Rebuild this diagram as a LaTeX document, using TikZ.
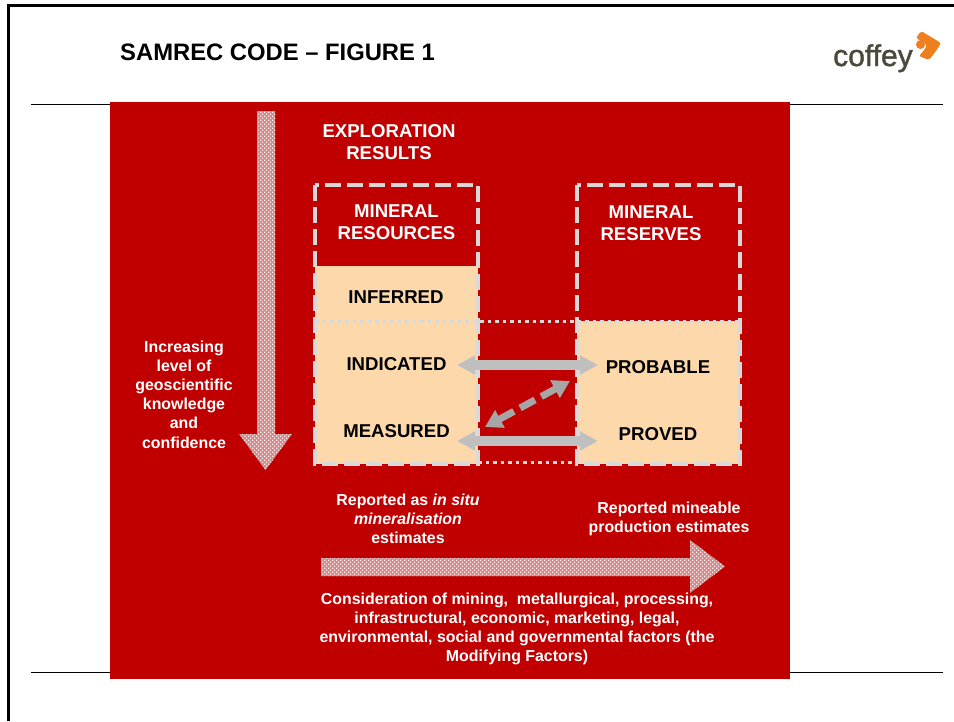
\documentclass[tikz,border=0pt]{standalone}
\usepackage{fontspec}
\setmainfont{Liberation Sans}
\newfontfamily\logofont[FakeBold=1.4]{Liberation Sans}
\usetikzlibrary{arrows.meta,patterns}
\definecolor{redbg}{HTML}{C00000}
\definecolor{peach}{HTML}{FCD8AA}
\definecolor{dashgrey}{HTML}{D9D9D9}
\definecolor{arrowgrey}{HTML}{BFBFBF}
\definecolor{diaggrey}{HTML}{A6A6A6}
\definecolor{hatchpink}{HTML}{DB8585}
\definecolor{logotext}{HTML}{4A4A3C}
\definecolor{logoorange}{HTML}{EE7F1E}
\pgfdeclarepatternformonly{lattice}{\pgfqpoint{-1pt}{-1pt}}{\pgfqpoint{3pt}{3pt}}{\pgfqpoint{4pt}{4pt}}{%
  \pgfpathrectangle{\pgfqpoint{0pt}{0pt}}{\pgfqpoint{1.3pt}{1.3pt}}%
  \pgfpathrectangle{\pgfqpoint{2pt}{2pt}}{\pgfqpoint{1.3pt}{1.3pt}}%
  \pgfusepath{fill}}
\tikzset{
  x=1pt,y=-1pt,
  rule/.style={draw=black,line width=1pt},
  boxdash/.style={draw=dashgrey,line width=3.5pt,dash pattern=on 16pt off 6pt},
  boxdot/.style={draw=dashgrey,line width=3pt,dash pattern=on 3.5pt off 4pt},
  wlabel/.style={text=white,font=\bfseries\fontsize{18.6}{22}\selectfont,align=center,inner sep=0pt},
  blabel/.style={text=black,font=\bfseries\fontsize{18.6}{22}\selectfont,align=center,inner sep=0pt},
  slabel/.style={text=white,font=\bfseries\fontsize{15.9}{19.2}\selectfont,align=center,inner sep=0pt},
  blockarrow/.style={fill=hatchpink,postaction={pattern=lattice,pattern color=white!90!hatchpink}},
  twoway/.style={draw=arrowgrey,line width=9.5pt,{Triangle[length=18pt,width=18pt]}-{Triangle[length=18pt,width=18pt]}},
  diagway/.style={draw=diaggrey,line width=7pt,dash pattern=on 17pt off 7pt,{Triangle[length=17pt,width=19pt]}-{Triangle[length=17pt,width=19pt]}},
}
\begin{document}
\begin{tikzpicture}
\useasboundingbox (0,0) rectangle (954,721);
\fill[white] (0,0) rectangle (954,721);
% slide frame
\draw[black,line width=3pt] (8,721) -- (8,5) -- (954,5);
\draw[rule] (31,104) -- (943,104);
\draw[rule] (31,672) -- (943,672);
% title
\node[anchor=base west,inner sep=0pt,font=\bfseries\fontsize{23.8}{26}\selectfont] (title) at (120,60) {SAMREC CODE – FIGURE 1};
% logo
\node[anchor=base west,inner sep=0pt,text=logotext,font=\logofont\fontsize{30}{32}\selectfont] (logo) at (833,66) {coffey};
\fill[logoorange,rounded corners=2pt] (921,31) -- (941,43) -- (936,51) -- (929,60) -- (919,56) -- (925,49) -- (927,44.5) -- (916,38) -- cycle;
\fill[logoorange] (920.5,44.5) circle (4.5);
% red panel
\fill[redbg] (110,102) rectangle (790,679);
% peach areas
\fill[peach] (315,266) rectangle (478,464);
\fill[peach] (577,321) rectangle (740,464);
% dotted rules
\draw[boxdot] (315,321) -- (740,321);
\draw[boxdot] (478,462) -- (577,462);
% dashed boxes
\draw[boxdash] (315,185) rectangle (478,464);
\draw[boxdash] (577,185) rectangle (740,464);
% block arrows
\path[blockarrow] (257,111) -- (275,111) -- (275,434) -- (292,434) -- (265.5,470) -- (239,434) -- (257,434) -- cycle;
\path[blockarrow] (321,558) -- (690,558) -- (690,540) -- (725,566.5) -- (690,593) -- (690,576) -- (321,576) -- cycle;
% labels
\node[wlabel] (explore) at (389,142) {EXPLORATION\\RESULTS};
\node[wlabel] (resources) at (396.5,222) {MINERAL\\RESOURCES};
\node[wlabel] (reserves) at (651,223) {MINERAL\\RESERVES};
\node[blabel] (inferred) at (396,297) {INFERRED};
\node[blabel] (indicated) at (396.5,364) {INDICATED};
\node[blabel] (measured) at (396.5,431) {MEASURED};
\node[blabel] (probable) at (658,367) {PROBABLE};
\node[blabel] (proved) at (658,434) {PROVED};
\node[slabel] (level) at (184,394.5) {Increasing\\level of\\geoscientific\\knowledge\\and\\confidence};
\node[slabel] (insitu) at (408,519) {Reported as \textit{in situ}\\\textit{mineralisation}\\estimates};
\node[slabel] (mine) at (669,519) {Reported mineable\\production estimates};
\node[slabel] (factors) at (517,629) {Consideration of mining,\ \ metallurgical, processing,\\infrastructural, economic, marketing, legal,\\environmental, social and governmental factors (the\\Modifying Factors)};
% connectors
\coordinate (indL) at (457,365);
\coordinate (probR) at (598,365);
\coordinate (meaL) at (457,441);
\coordinate (proR) at (598,441);
\coordinate (diagA) at (485,427);
\coordinate (diagB) at (570,381);
\draw[twoway] (indL) -- (probR);
\draw[twoway] (meaL) -- (proR);
\draw[diagway] (diagA) -- (diagB);
\end{tikzpicture}
\end{document}
